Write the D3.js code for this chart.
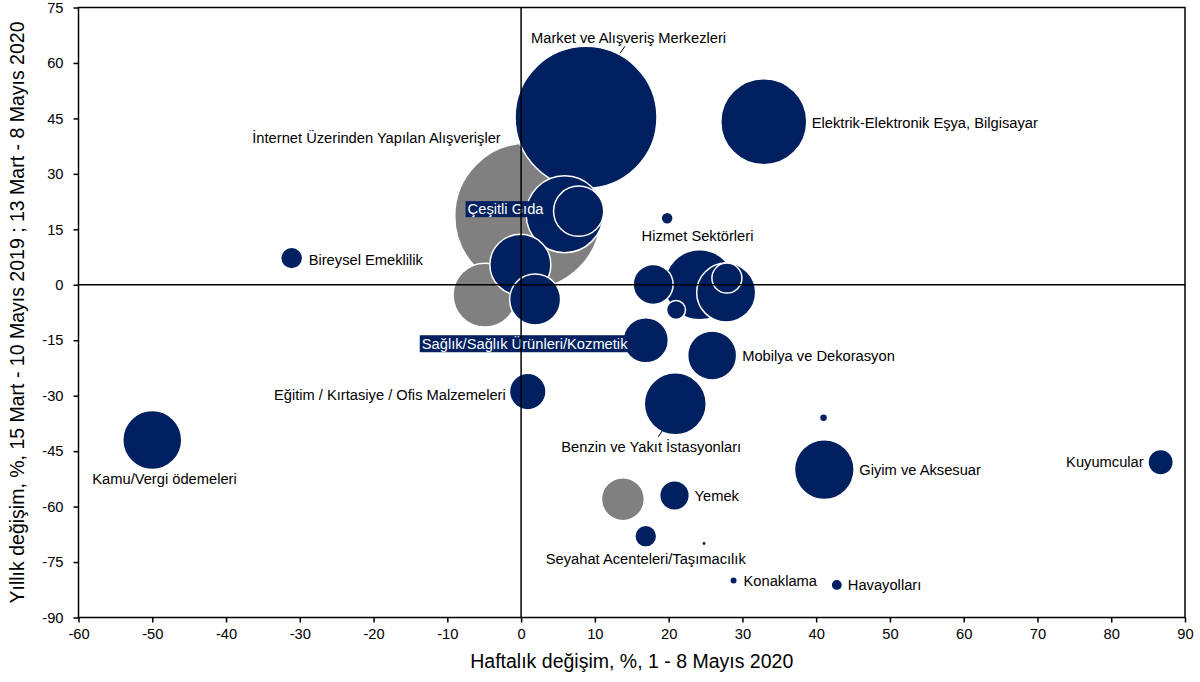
<!DOCTYPE html>
<html>
<head>
<meta charset="utf-8">
<script src="https://cdn.jsdelivr.net/npm/d3@7"></script>
<style>
  body { margin: 0; background: #fff; }
  svg text { font-family: "Liberation Sans", Arial, sans-serif; fill: #000; }
</style>
</head>
<body>
<div id="chart"></div>
<script>
var W = 1200, H = 682;

// bubble data
var names = [
  "Market ve Alışveriş Merkezleri", "İnternet Üzerinden Yapılan Alışverişler",
  "Elektrik-Elektronik Eşya, Bilgisayar", "Çeşitli Gıda", "", "Bireysel Emeklilik",
  "", "", "", "", "Hizmet Sektörleri", "", "", "", "",
  "Sağlık/Sağlık Ürünleri/Kozmetik", "Mobilya ve Dekorasyon", "Benzin ve Yakıt İstasyonları",
  "Eğitim / Kırtasiye / Ofis Malzemeleri", "Kamu/Vergi ödemeleri", "", "Giyim ve Aksesuar",
  "Kuyumcular", "", "Yemek", "Seyahat Acenteleri/Taşımacılık", "", "Konaklama", "Havayolları"
];
var xVals = [8.8, 0.9, 32.9, 5.9, 7.8, -31.1, -0.1, -4.9, 1.9, 19.8, 24.2, 17.9, 21.0, 27.8, 27.9,
             16.9, 25.9, 20.9, 0.9, -50.0, 41.0, 41.1, 86.7, 13.8, 20.8, 16.9, 24.8, 28.8, 42.8];
var yVals = [45.3, 18.6, 44.1, 19.1, 19.9, 7.2, 5.4, -2.8, -4.0, 18.0, 0.0, 0.1, -6.8, -2.1, 1.8,
             -15.0, -19.1, -32.2, -28.9, -42.0, -36.0, -50.0, -48.0, -58.0, -57.0, -68.0, -70.0, -80.0, -81.2];
var sizes = [504, 533, 185, 148, 63, 12, 93, 102, 65, 3.6, 123, 40, 9, 87, 22.5,
             51, 60, 96, 33.5, 87, 1.6, 89, 16, 46, 22, 12, 0.5, 1.4, 3.2];
var groups = ["n", "g", "n", "n", "n", "n", "n", "g", "n", "n", "n", "n", "n", "n", "n",
              "n", "n", "n", "n", "n", "n", "n", "n", "g", "n", "n", "n", "n", "n"];

var xTicks = d3.range(-60, 91, 10);
var yTicks = d3.range(-90, 76, 15);
var xTitle = "Haftalık değişim, %, 1 - 8 Mayıs 2020";
var yTitle = "Yıllık değişim, %, 15 Mart - 10 Mayıs 2019 ; 13 Mart - 8 Mayıs 2020";

// label placement (pixel offsets from the bubble centre)
var labelPos = {
  0:  {dx: -55, dy: -74, anchor: "start", leader: [[34, -64], [39, -71]]},
  1:  {dx: -27, dy: -73, anchor: "end"},
  2:  {dx: 48, dy: 6, anchor: "start"},
  3:  {dx: -97, dy: 0, anchor: "start", box: true},
  5:  {dx: 17, dy: 7, anchor: "start"},
  10: {dx: -58, dy: -44, anchor: "start"},
  15: {dx: -224, dy: 9, anchor: "start", box: true},
  16: {dx: 30, dy: 6, anchor: "start"},
  17: {dx: -114, dy: 48, anchor: "start", leader: [[-17, 33], [-13, 27]]},
  18: {dx: -22, dy: 8, anchor: "end"},
  19: {dx: -60, dy: 44, anchor: "start"},
  21: {dx: 35, dy: 5, anchor: "start"},
  22: {dx: -17, dy: 5, anchor: "end"},
  24: {dx: 20, dy: 5, anchor: "start"},
  25: {dx: 0, dy: 28, anchor: "middle"},
  27: {dx: 10, dy: 5, anchor: "start"},
  28: {dx: 11, dy: 5, anchor: "start"}
};

var colors = {n: "#002060", g: "#808080"};

var x = d3.scaleLinear().domain([-60, 90]).range([78.5, 1185]);
var y = d3.scaleLinear().domain([-90, 75]).range([617.5, 7.5]);
var r = d3.scaleSqrt().domain([0, 533]).range([0, 73]);

var svg = d3.select("#chart").append("svg")
    .attr("width", W)
    .attr("height", H);

var bubbles = names.map(function(n, i) {
  return {i: i, name: n, x: xVals[i], y: yVals[i], s: sizes[i], g: groups[i]};
});
// big ones first so the small ones stay on top
var drawOrder = bubbles.slice().sort(function(a, b) { return b.s - a.s; });

svg.append("g").selectAll("circle")
  .data(drawOrder)
  .enter()
  .append("circle")
  .attr("cx", function(d) { return x(d.x); })
  .attr("cy", function(d) { return y(d.y); })
  .attr("r", function(d) { return r(d.s); })
  .attr("fill", function(d) { return colors[d.g]; })
  .attr("stroke", "#fff")
  .attr("stroke-width", 1.5);

// labels
var lg = svg.append("g");
bubbles.forEach(function(d) {
  var p = labelPos[d.i];
  if (!p) return;
  var cx = x(d.x), cy = y(d.y);
  if (p.leader) {
    lg.append("line")
      .attr("x1", cx + p.leader[0][0]).attr("y1", cy + p.leader[0][1])
      .attr("x2", cx + p.leader[1][0]).attr("y2", cy + p.leader[1][1])
      .attr("stroke", "#000").attr("stroke-width", 1);
  }
  var t = lg.append("text")
    .attr("x", cx + p.dx)
    .attr("y", cy + p.dy)
    .attr("text-anchor", p.anchor)
    .style("font-size", "14.7px")
    .text(d.name);
  if (p.box) {
    var bb = t.node().getBBox();
    lg.insert("rect", function() { return t.node(); })
      .attr("x", bb.x - 2).attr("y", bb.y)
      .attr("width", bb.width + 4).attr("height", bb.height)
      .attr("fill", "#002060");
    t.style("fill", "#fff");
  }
});

// zero lines on top
svg.append("line")
  .attr("x1", x(0)).attr("x2", x(0)).attr("y1", y(75)).attr("y2", y(-90))
  .attr("stroke", "#000").attr("stroke-width", 1.5);
svg.append("line")
  .attr("x1", x(-60)).attr("x2", x(90)).attr("y1", y(0)).attr("y2", y(0))
  .attr("stroke", "#000").attr("stroke-width", 1.5);

// frame
svg.append("rect")
  .attr("x", x(-60)).attr("y", y(75))
  .attr("width", x(90) - x(-60)).attr("height", y(-90) - y(75))
  .attr("fill", "none").attr("stroke", "#000").attr("stroke-width", 1.5);

// axes (plain hyphen for negatives, like the original)
var fmt = function(d) { return String(d); };
var xAxis = svg.append("g")
  .attr("transform", "translate(0," + y(-90) + ")")
  .call(d3.axisBottom(x).tickValues(xTicks).tickSize(5).tickPadding(6).tickFormat(fmt));
var yAxis = svg.append("g")
  .attr("transform", "translate(" + x(-60) + ",0)")
  .call(d3.axisLeft(y).tickValues(yTicks).tickSize(5).tickPadding(10).tickFormat(fmt));

[xAxis, yAxis].forEach(function(a) {
  a.select(".domain").remove();
  a.selectAll(".tick line").attr("stroke", "#000").attr("stroke-width", 1.5);
  a.selectAll(".tick text").style("font-size", "14.7px").attr("fill", "#000")
    .style("font-family", "'Liberation Sans', Arial, sans-serif");
});

// titles
svg.append("text")
  .attr("x", (x(-60) + x(90)) / 2)
  .attr("y", 668)
  .attr("text-anchor", "middle")
  .style("font-size", "19.5px")
  .text(xTitle);

svg.append("text")
  .attr("transform", "translate(24," + ((y(75) + y(-90)) / 2) + ") rotate(-90)")
  .attr("text-anchor", "middle")
  .style("font-size", "19.5px")
  .text(yTitle);
</script>
</body>
</html>
